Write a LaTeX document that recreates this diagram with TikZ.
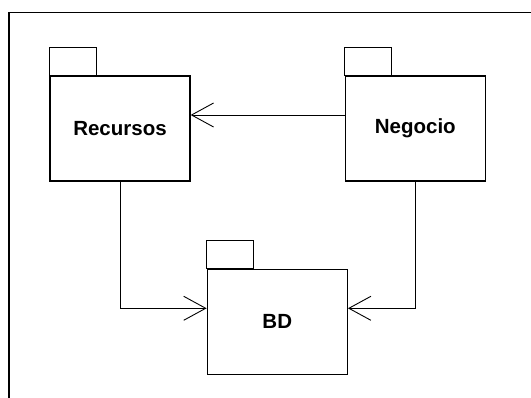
\documentclass[tikz,border=0pt]{standalone}
\usepackage{fontspec}
\setmainfont{Liberation Sans}
\usepackage{tikz}
\usetikzlibrary{arrows.meta}
\usetikzlibrary{calc}
\usetikzlibrary{positioning}
\begin{document}
\begin{tikzpicture}[->,>={Straight Barb[length=22pt,width=24pt]},x=1pt,y=1pt,line width=0.9pt]
 				 \tikzstyle{pkg}=[draw, rectangle, line width=1.3pt, minimum width=140pt, minimum height=105pt, inner sep=0pt, font=\fontsize{20.5}{24}\selectfont\bfseries]
 				 \tikzstyle{tab}=[line width=1.3pt]
 					 \useasboundingbox (0,0) rectangle (531,-398);
 					 \draw[-, line width=1.3pt] (531,-12.5) -- (9,-12.5) -- (9,-398);
 					 \node[pkg] 			(rec) at (120,-128.5)        		{Recursos};
 					 \node[pkg] 			(neg) [right=154pt of rec]         		{Negocio};
 					 \node[pkg] 			(bd) [below right=87pt and 16pt of rec]   		{BD};
 					 \foreach \p in {rec,neg,bd}
 					   \draw[-, tab] (\p.north west) rectangle ++(47,28);
				\draw ([yshift=13.5pt]neg.west) -- ([yshift=13.5pt]rec.east);
				\draw (rec.south) |- ([yshift=13.5pt]bd.west);
				\draw (neg.south) |- ([yshift=13.5pt]bd.east);
\end{tikzpicture}
\end{document}
